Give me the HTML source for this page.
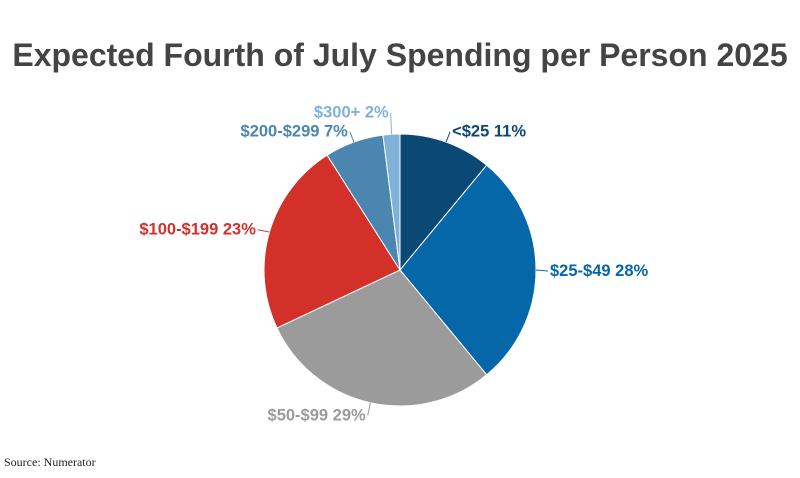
<!DOCTYPE html>
<html><head><meta charset="utf-8"><style>
body{margin:0;background:#fff;width:800px;height:473px;overflow:hidden;font-family:"Liberation Sans",sans-serif}
</style></head><body>
<svg width="800" height="473">
<text x="400" y="66" text-anchor="middle" font-size="32" font-weight="bold" fill="#444">Expected Fourth of July Spending per Person 2025</text>
<g id="pie"></g>
<text x="4" y="466" font-family="Liberation Serif" font-size="12" fill="#222">Source: Numerator</text>
</svg>
<script>
const categories=["<$25","$25-$49","$50-$99","$100-$199","$200-$299","$300+"];
const values=[11,28,29,23,7,2];
const colors=["#0b4873","#0567a8","#9b9b9b","#d3302a","#4a86b0","#80b2d9"];
const g=document.getElementById('pie');
const NS='http://www.w3.org/2000/svg';
const cx=400,cy=270,r=136;
const total=values.reduce((a,b)=>a+b,0);
let acc=0;
const placed=[];
function pt(a,rr){return [cx+rr*Math.sin(a),cy-rr*Math.cos(a)];}
values.forEach((v,i)=>{
  const a0=acc/total*2*Math.PI;acc+=v;const a1=acc/total*2*Math.PI;
  const p0=pt(a0,r),p1=pt(a1,r);
  const p=document.createElementNS(NS,'path');
  p.setAttribute('d',`M${cx},${cy}L${p0[0]},${p0[1]}A${r},${r} 0 ${a1-a0>Math.PI?1:0} 1 ${p1[0]},${p1[1]}Z`);
  p.setAttribute('fill',colors[i]);p.setAttribute('stroke','#fff');p.setAttribute('stroke-width','1');
  
  
  g.appendChild(p);
  const am=(a0+a1)/2;
  const s=Math.sin(am);
  const lp=pt(am,r+12);
  const t=document.createElementNS(NS,'text');
  let tx=lp[0]+(s>=0?2:-2), ty=lp[1]+6;
  t.setAttribute('text-anchor',Math.abs(s)<0.15?'end':(s>0?'start':'end'));
  t.setAttribute('font-size','16.5');t.setAttribute('font-weight','bold');t.setAttribute('fill',colors[i]);
  t.textContent=categories[i]+' '+v+'%';
  t.setAttribute('x',tx);t.setAttribute('y',ty);
  
  
  g.appendChild(t);
  let bb=t.getBBox();
  for(const q of placed){
    if(bb.x<q.x+q.width&&bb.x+bb.width>q.x&&bb.y<q.y+q.height&&bb.y+bb.height>q.y){
      ty-= (bb.y+bb.height-q.y)+1;
      t.setAttribute('y',ty);bb=t.getBBox();
    }
  }
  placed.push(bb);
  const l0=pt(am,r);
  const ln=document.createElementNS(NS,'polyline');
  const ex=Math.abs(s)<0.15?tx+2:tx-(s>=0?2:-2);
  ln.setAttribute('points',`${l0[0]},${l0[1]} ${ex},${Math.min(ty-5,Math.max(l0[1],ty-5))}`);
  ln.setAttribute('fill','none');
  ln.setAttribute('stroke',colors[i]);
  
  
  g.insertBefore(ln,t);
});
</script>
</body></html>
